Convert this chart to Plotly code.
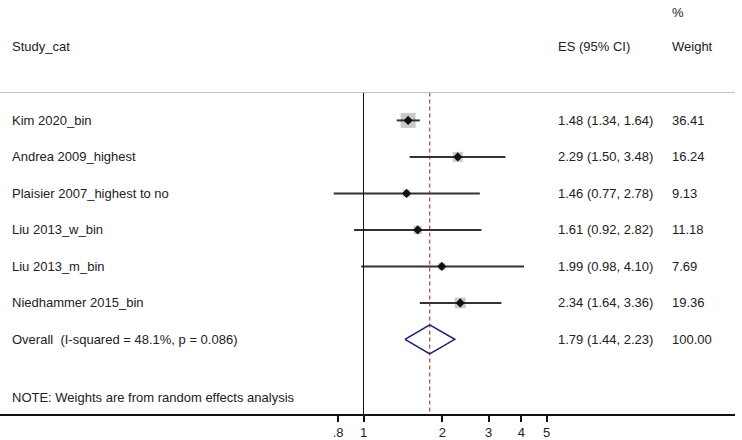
import plotly.graph_objects as go

studies = [
    "Kim 2020_bin",
    "Andrea 2009_highest",
    "Plaisier 2007_highest to no",
    "Liu 2013_w_bin",
    "Liu 2013_m_bin",
    "Niedhammer 2015_bin",
]
es = [1.48, 2.29, 1.46, 1.61, 1.99, 2.34]
lower = [1.34, 1.50, 0.77, 0.92, 0.98, 1.64]
upper = [1.64, 3.48, 2.78, 2.82, 4.10, 3.36]
weights = [36.41, 16.24, 9.13, 11.18, 7.69, 19.36]

overall_label = "Overall  (I-squared = 48.1%, p = 0.086)"
overall_es, overall_lo, overall_hi = 1.79, 1.44, 2.23
overall_weight = 100.00
note = "NOTE: Weights are from random effects analysis"

tick_vals = [0.8, 1, 2, 3, 4, 5]
tick_text = [".8", "1", "2", "3", "4", "5"]

rows = list(range(len(studies)))
overall_row = len(studies)
note_row = 7.58
header_row = -2.02
pct_row = -2.97
top_row = -0.764

font = dict(family="Liberation Sans, Arial, sans-serif", size=13, color="#222")

fig = go.Figure()

# weight boxes (area ~ weight)
fig.add_trace(go.Scatter(
    x=es, y=rows, mode="markers",
    marker=dict(symbol="square", size=[2.49 * w ** 0.5 for w in weights],
                color="#b4b4b4", line=dict(width=0)),
    hoverinfo="skip", showlegend=False,
))

# confidence intervals
ci_x, ci_y = [], []
for lo, hi, r in zip(lower, upper, rows):
    ci_x += [lo, hi, None]
    ci_y += [r, r, None]
fig.add_trace(go.Scatter(
    x=ci_x, y=ci_y, mode="lines", line=dict(color="#333", width=2),
    hoverinfo="skip", showlegend=False,
))

# point estimates
fig.add_trace(go.Scatter(
    x=es, y=rows, mode="markers",
    marker=dict(symbol="diamond", size=7, color="#111"),
    hoverinfo="skip", showlegend=False,
))

# overall diamond
h = 0.40
fig.add_trace(go.Scatter(
    x=[overall_lo, overall_es, overall_hi, overall_es, overall_lo],
    y=[overall_row, overall_row - h, overall_row, overall_row + h, overall_row],
    mode="lines", line=dict(color="#1c1c6e", width=1.5),
    hoverinfo="skip", showlegend=False,
))

# reference lines
fig.add_shape(type="line", xref="x", yref="y", x0=1, x1=1, y0=top_row, y1=8.045,
              line=dict(color="#111", width=1))
fig.add_shape(type="line", xref="x", yref="y", x0=overall_es, x1=overall_es,
              y0=top_row, y1=8.045, line=dict(color="#8b2035", width=1, dash="4px,3px"))
fig.add_shape(type="line", xref="paper", yref="y", x0=0, x1=1, y0=top_row, y1=top_row,
              line=dict(color="#c0c0c0", width=1))

ann = []
x_lab, x_es, x_w = 10 / 735, 556 / 735, 670 / 735


def txt(x, y, s):
    ann.append(dict(x=x, y=y, xref="paper", yref="y", text=s, showarrow=False,
                    xanchor="left", yanchor="middle", font=font))


txt(x_lab, header_row, "Study_cat")
txt(x_es, header_row, "ES (95% CI)")
txt(x_w, header_row, "Weight")
txt(x_w, pct_row, "%")
for s, e, lo, hi, w, r in zip(studies, es, lower, upper, weights, rows):
    txt(x_lab, r, s)
    txt(x_es, r, f"{e:.2f} ({lo:.2f}, {hi:.2f})")
    txt(x_w, r, f"{w:.2f}")
txt(x_lab, overall_row, overall_label)
txt(x_es, overall_row, f"{overall_es:.2f} ({overall_lo:.2f}, {overall_hi:.2f})")
txt(x_w, overall_row, f"{overall_weight:.2f}")
txt(x_lab, note_row, note)

fig.update_layout(
    width=742, height=440,
    margin=dict(l=0, r=7, t=0, b=24),
    paper_bgcolor="white", plot_bgcolor="white",
    annotations=ann,
    font=font,
    xaxis=dict(type="log", range=[-1.3874, 1.4179], tickvals=tick_vals, ticktext=tick_text,
               ticks="outside", ticklen=6, tickwidth=1.5, tickcolor="#111", showgrid=False,
               zeroline=False, showline=True, linecolor="#111", linewidth=1.5, tickfont=font),
    yaxis=dict(range=[8.045, -3.30], visible=False, showgrid=False, zeroline=False),
)

fig.write_html("out.html", config={"displayModeBar": False},
               post_script="document.body.style.margin='0px';")
